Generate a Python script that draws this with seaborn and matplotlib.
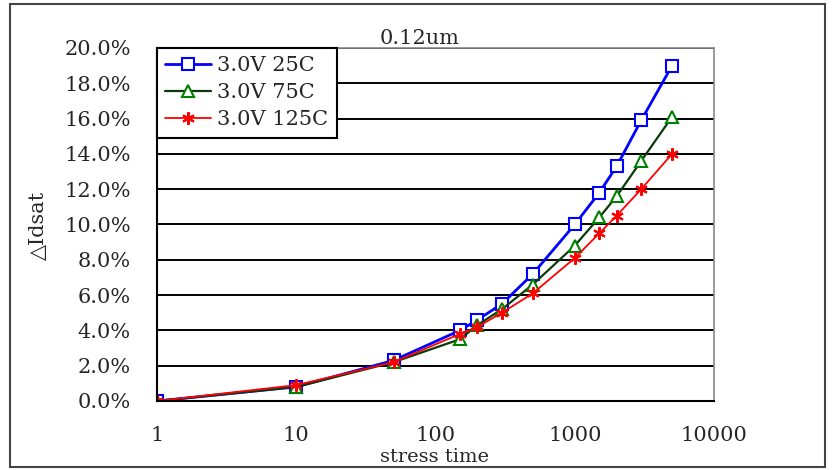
import matplotlib
matplotlib.use("Agg")
import matplotlib.pyplot as plt
import seaborn as sns
import pandas as pd
from matplotlib.patches import Rectangle
from matplotlib.ticker import FixedLocator, NullLocator, FuncFormatter

stress_25 = [1, 10, 50, 150, 200, 300, 500, 1000, 1500, 2000, 3000, 5000]
vals_25 = [0.0, 0.8, 2.3, 4.0, 4.6, 5.5, 7.2, 10.0, 11.8, 13.3, 15.9, 19.0]
stress_75 = [1, 10, 50, 150, 200, 300, 500, 1000, 1500, 2000, 3000, 5000]
vals_75 = [0.0, 0.8, 2.2, 3.5, 4.3, 5.2, 6.6, 8.8, 10.4, 11.6, 13.6, 16.1]
stress_125 = [1, 10, 50, 150, 200, 300, 500, 1000, 1500, 2000, 3000, 5000]
vals_125 = [0.0, 0.9, 2.2, 3.8, 4.2, 5.0, 6.1, 8.1, 9.5, 10.5, 12.0, 14.0]
labels = ["3.0V 25C", "3.0V 75C", "3.0V 125C"]
x_ticks = [1, 10, 100, 1000, 10000]
y_ticks = [0, 2, 4, 6, 8, 10, 12, 14, 16, 18, 20]

sns.set_style("white")
plt.rcParams["font.family"] = ["DejaVu Serif", "DejaVu Sans"]
FS = 15

fig = plt.figure(figsize=(8.35, 4.7), dpi=100)
ax = fig.add_axes([157/835, 1-401/470, (714-157)/835, (401-48)/470])

series = [
    (stress_25, vals_25, labels[0], "#0000ff", "#0000ff", "s", 2.0, 9),
    (stress_75, vals_75, labels[1], "#008000", "#0a3a0a", "^", 1.6, 9),
    (stress_125, vals_125, labels[2], "#ff0000", "#ff0000", (6, 2, 0), 1.3, 9),
]
for xs, ys, lab, mc, lc, mk, lw, ms in series:
    df = pd.DataFrame({"t": xs, "v": ys})
    sns.lineplot(data=df, x="t", y="v", ax=ax, color=lc, linewidth=lw,
                 marker=mk, markersize=ms, markerfacecolor="white",
                 markeredgecolor=mc, markeredgewidth=1.5, label=lab)

ax.set_xscale("log")
ax.set_xlim(1, 10000)
ax.set_ylim(0, 20)
ax.xaxis.set_major_locator(FixedLocator(x_ticks))
ax.xaxis.set_minor_locator(NullLocator())
ax.xaxis.set_major_formatter(FuncFormatter(lambda v, p: f"{int(round(v))}"))
ax.set_yticks(y_ticks)
ax.yaxis.set_major_formatter(FuncFormatter(lambda v, p: f"{v:.1f}%"))
ax.tick_params(axis="x", direction="in", length=6, width=1.2, color="black",
               pad=18, labelsize=FS)
ax.tick_params(axis="y", length=0, pad=19, labelsize=FS)
ax.yaxis.grid(True, color="black", linewidth=1.4)
ax.xaxis.grid(False)
ax.set_axisbelow(True)
ax.set_xlabel("")
ax.set_ylabel("")
for s in ["left", "bottom"]:
    ax.spines[s].set_color("black")
    ax.spines[s].set_linewidth(1.5)
for s in ["top", "right"]:
    ax.spines[s].set_color("#888888")
    ax.spines[s].set_linewidth(1.2)

leg = ax.legend(loc="upper left", bbox_to_anchor=(0, 1.0), fontsize=FS,
                frameon=True, fancybox=False, borderaxespad=0,
                handlelength=2.2, handletextpad=0.3, labelspacing=0.38,
                borderpad=0.4)
leg.get_frame().set_edgecolor("black")
leg.get_frame().set_linewidth(1.5)
leg.get_frame().set_alpha(1)

fig.text(420/835, 1-39/470, "0.12um", ha="center", va="center", fontsize=FS)
fig.text(435/835, 1-457/470, "stress time", ha="center", va="center", fontsize=FS - 1)
fig.text(38/835, 1-225/470, "\u25b3Idsat", ha="center", va="center", fontsize=FS,
         rotation=90)

fig.patches.append(Rectangle((10/835, 3/470), 815/835, 463/470, transform=fig.transFigure,
                             fill=False, edgecolor="#444444", linewidth=1.5))

fig.savefig("out.png", dpi=100)
